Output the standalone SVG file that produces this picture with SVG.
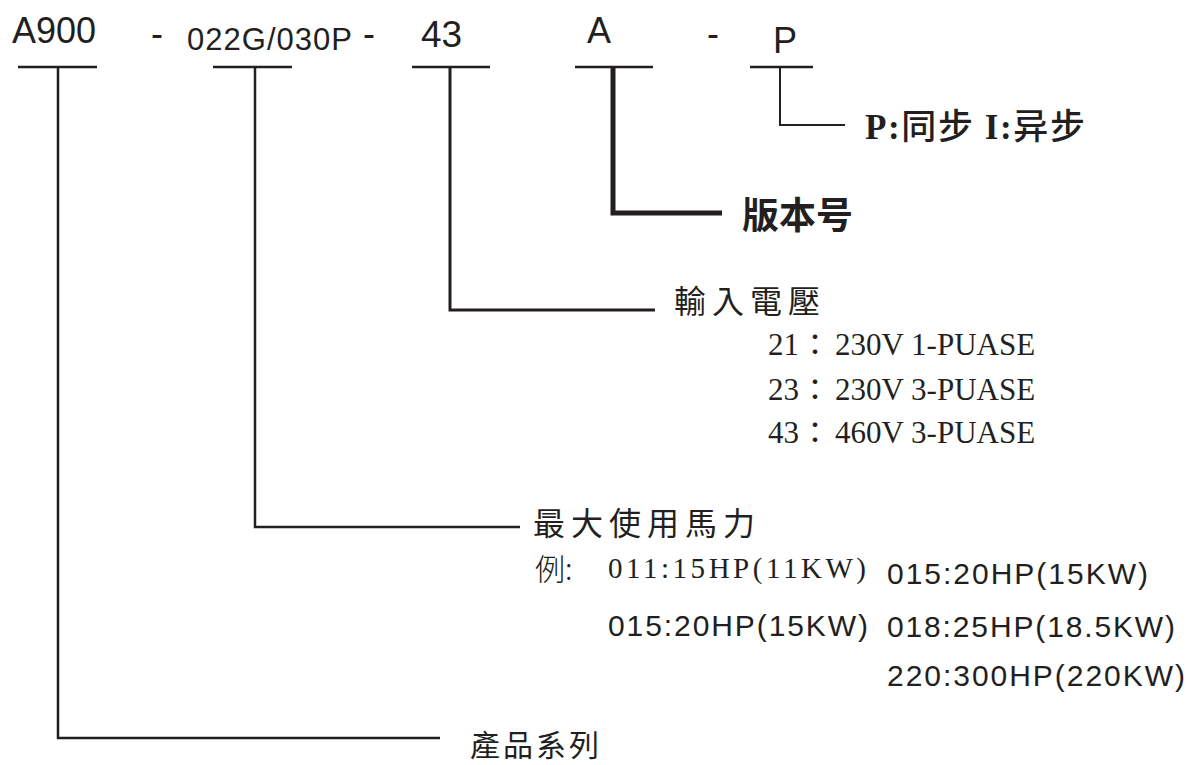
<svg xmlns="http://www.w3.org/2000/svg" width="1196" height="765" viewBox="0 0 1196 765">
<style>
.code{font-family:"Liberation Sans",Arial,sans-serif;fill:#231f20}
.cjk{font-family:"Noto Sans CJK TC","Noto Sans CJK SC",sans-serif;fill:#231f20}
.ser{font-family:"Liberation Serif","Noto Sans CJK TC",serif;fill:#231f20}
.ln{fill:none;stroke:#231f20;stroke-width:2.5;stroke-linejoin:miter}
</style>
<rect width="1196" height="765" fill="#fff"/>
<g id="code">
<text class="code" x="12" y="43" font-size="36">A900</text>
<text class="code" x="151" y="46" font-size="36">-</text>
<text class="code" x="187" y="50" font-size="31" textLength="165">022G/030P</text>
<text class="code" x="363" y="46" font-size="36">-</text>
<text class="code" x="421" y="47" font-size="37">43</text>
<text class="code" x="587" y="43" font-size="36">A</text>
<text class="code" x="707" y="46" font-size="36">-</text>
<text class="code" x="773" y="53" font-size="36">P</text>
</g>
<g id="connectors">
<path class="ln" d="M18 67H97M58 67V738H440"/>
<path class="ln" d="M213 67H292M255 67V527H520"/>
<path class="ln" d="M412 67H490"/>
<path class="ln" style="stroke-width:3" d="M450 67V310H655"/>
<path class="ln" d="M575 67H653"/>
<path class="ln" style="stroke-width:5" d="M613 67V213H722"/>
<path class="ln" d="M750 67H813"/>
<path class="ln" style="stroke-width:2" d="M780 67V125H845"/>
</g>
<g id="node-sync">
<text class="ser" x="865" y="139" font-size="35" font-weight="bold" textLength="220">P:<tspan class="cjk" font-weight="500">同步</tspan> I:<tspan class="cjk" font-weight="500">异步</tspan></text>
</g>
<g id="node-version">
<text class="cjk" x="742" y="229" font-size="37" font-weight="bold">版本号</text>
</g>
<g id="node-voltage">
<text class="cjk" x="674" y="313" font-size="32" letter-spacing="6">輸入電壓</text>
<text class="ser" x="768" y="355" font-size="31">21<tspan class="cjk" x="800" font-size="30">：</tspan><tspan x="835">230V 1-PUASE</tspan></text>
<text class="ser" x="768" y="400" font-size="31">23<tspan class="cjk" x="800" font-size="30">：</tspan><tspan x="835">230V 3-PUASE</tspan></text>
<text class="ser" x="768" y="443" font-size="31">43<tspan class="cjk" x="800" font-size="30">：</tspan><tspan x="835">460V 3-PUASE</tspan></text>
</g>
<g id="node-power">
<text class="cjk" x="533" y="535" font-size="32" letter-spacing="6">最大使用馬力</text>
<text class="cjk" x="535" y="580" font-size="30" font-weight="300">例:</text>
<text class="ser" x="608" y="578" font-size="29" textLength="258">011:15HP(11KW)</text>
<text class="code" x="887" y="584" font-size="30" textLength="261">015:20HP(15KW)</text>
<text class="code" x="608" y="636" font-size="30" textLength="260">015:20HP(15KW)</text>
<text class="code" x="887" y="637" font-size="30" textLength="288">018:25HP(18.5KW)</text>
<text class="code" x="887" y="686" font-size="30" textLength="298">220:300HP(220KW)</text>
</g>
<g id="node-series">
<text class="cjk" x="470" y="756" font-size="30" letter-spacing="3">產品系列</text>
</g>
</svg>
